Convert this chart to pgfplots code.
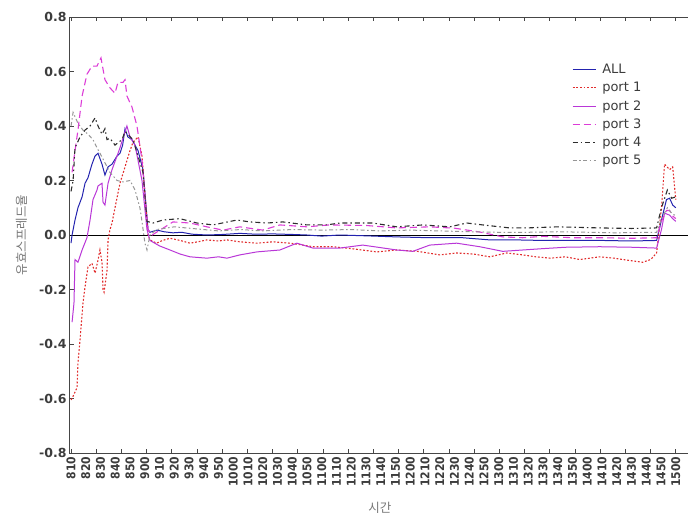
\documentclass[border=0pt]{standalone}
\usepackage{fontspec}
\setmainfont{DejaVu Sans}
\newfontfamily\kr{Noto Sans CJK KR}
\newfontfamily\tickfont{DejaVu Sans}[FakeStretch=0.9]
\usepackage{pgfplots}
\pgfplotsset{compat=1.18}
\definecolor{cAll}{RGB}{35,35,175}
\definecolor{cP1}{RGB}{225,45,45}
\definecolor{cP2}{RGB}{185,55,215}
\definecolor{cP3}{RGB}{220,60,215}
\definecolor{cP4}{RGB}{45,45,45}
\definecolor{cP5}{RGB}{150,150,150}
\definecolor{axisgray}{RGB}{70,70,70}
\definecolor{tickgray}{RGB}{60,60,60}
\definecolor{labgray}{RGB}{120,120,120}
\begin{document}
\begin{tikzpicture}
\useasboundingbox (-70pt,-66pt) rectangle (618pt,453pt);
\begin{axis}[
  at={(0pt,0pt)}, anchor=south west,
  scale only axis, width=622pt, height=436pt,
  xmin=-0.07, xmax=42.1, ymin=-0.8, ymax=0.8,
  axis line style={color=axisgray, line width=1pt},
  every tick/.style={color=axisgray, line width=0.8pt},
  major tick length=4pt,
  tick align=inside, xtick pos=both, ytick pos=left,
  xtick={0,1.7083,...,41.1}, xticklabels={},
  extra x ticks={0,1,...,41},
  extra x tick labels={810,820,830,840,850,900,910,920,930,940,950,1000,1010,1020,1030,1040,1050,1100,1110,1120,1130,1140,1150,1200,1210,1220,1230,1240,1250,1300,1310,1320,1330,1340,1350,1400,1410,1420,1430,1440,1450,1500},
  extra x tick style={major tick length=0pt},
  xticklabel style={rotate=90, anchor=east, font=\tickfont\bfseries\fontsize{12}{12}\selectfont, text=tickgray},
  ytick={-0.8,-0.6,-0.4,-0.2,0,0.2,0.4,0.6,0.8},
  yticklabel style={font=\bfseries\fontsize{12.5}{13}\selectfont, text=tickgray},
  /pgf/number format/assume math mode=true,
  /pgf/number format/fixed, /pgf/number format/fixed zerofill, /pgf/number format/precision=1,
  ylabel={\kr 유효스프레드율},
  ylabel style={at={(axis description cs:-0.077,0.5)}, anchor=center, font=\fontsize{12.5}{13}\selectfont, text=labgray},
  xlabel={\kr 시간},
  xlabel style={at={(axis description cs:0.498,-0.126)}, anchor=center, font=\fontsize{12.5}{13}\selectfont, text=labgray},
  legend style={at={(axis description cs:0.807,0.897)}, anchor=north west, draw=none, fill=none,
    font=\fontsize{13}{13}\selectfont, text=tickgray, row sep=3.2pt, inner sep=0pt,
    nodes={inner sep=2pt}},
  legend cell align=left,
  /tikz/every odd column/.append style={column sep=4pt},
  legend image code/.code={\draw[#1] (0pt,0pt) -- (23pt,0pt);},
]
\addplot[black, line width=0.9pt, forget plot] coordinates {(-0.07,0) (42.1,0)};

% ALL
\addplot[cAll, line width=1pt] coordinates {
(0,-0.03) (0.07,0.0) (0.27,0.055) (0.47,0.10) (0.75,0.14) (0.95,0.19) (1.15,0.21) (1.42,0.26) (1.63,0.29) (1.83,0.30) (2.10,0.26) (2.30,0.22) (2.51,0.25) (2.78,0.26) (3.12,0.29) (3.32,0.30) (3.50,0.33) (3.66,0.39) (3.85,0.36) (4.13,0.35) (4.54,0.31) (4.88,0.24) (5.22,0.02) (5.35,0.01) (5.83,0.018) (6.3,0.012) (6.91,0.008) (7.5,0.01) (8.2,0.003) (9.21,0.0) (10.3,0.002) (11.45,0.006) (12.5,0.003) (13.69,0.004) (15,0.002) (15.99,0.0) (17,-0.004) (18.22,0.0) (20,-0.003) (22.09,-0.007) (24.32,-0.01) (26.56,-0.01) (28.39,-0.018) (30.22,-0.018) (32,-0.02) (34,-0.02) (36,-0.02) (38,-0.022) (39.7,-0.02) (40.03,0.055) (40.37,0.13) (40.58,0.135) (40.79,0.11) (41.0,0.10)};
\addlegendentry{ALL}

% port 1
\addplot[cP1, line width=1.1pt, dash pattern=on 1.8pt off 1.8pt] coordinates {
(0,-0.605) (0.07,-0.60) (0.41,-0.56) (0.47,-0.47) (0.61,-0.385) (0.81,-0.25) (0.95,-0.19) (1.15,-0.117) (1.42,-0.104) (1.63,-0.14) (1.83,-0.092) (1.96,-0.055) (2.10,-0.10) (2.17,-0.20) (2.24,-0.21) (2.44,-0.13) (2.51,-0.018) (2.64,0.02) (2.78,0.044) (2.98,0.10) (3.32,0.19) (3.66,0.25) (4.0,0.31) (4.20,0.34) (4.54,0.36) (4.81,0.29) (5.01,0.15) (5.22,0.0) (5.35,-0.018) (5.8,-0.03) (6.2,-0.02) (6.71,-0.012) (7.4,-0.02) (8.06,-0.03) (8.6,-0.025) (9.21,-0.018) (10.0,-0.022) (10.57,-0.018) (11.45,-0.025) (12.60,-0.03) (13.69,-0.025) (14.84,-0.03) (15.5,-0.035) (16.40,-0.043) (17.75,-0.043) (19,-0.05) (20.73,-0.062) (22.09,-0.055) (23.5,-0.06) (25.0,-0.073) (26.15,-0.066) (27.3,-0.07) (28.39,-0.08) (29.54,-0.066) (30.62,-0.073) (31.5,-0.08) (32.5,-0.085) (33.5,-0.08) (34.5,-0.09) (35.84,-0.08) (36.8,-0.085) (37.67,-0.092) (38.75,-0.10) (39.3,-0.09) (39.70,-0.066) (40.03,0.10) (40.24,0.26) (40.58,0.24) (40.79,0.25) (41.0,0.13)};
\addlegendentry{port 1}

% port 2
\addplot[cP2, line width=1pt] coordinates {
(0.07,-0.32) (0.20,-0.25) (0.27,-0.09) (0.47,-0.10) (0.75,-0.055) (1.08,-0.01) (1.29,0.055) (1.49,0.13) (1.76,0.165) (1.83,0.18) (2.10,0.19) (2.17,0.12) (2.30,0.11) (2.51,0.19) (2.78,0.24) (3.12,0.29) (3.32,0.32) (3.55,0.36) (3.79,0.40) (4.0,0.36) (4.34,0.33) (4.81,0.20) (5.15,0.02) (5.35,-0.02) (6.0,-0.04) (6.71,-0.055) (7.4,-0.07) (8.06,-0.08) (9.21,-0.085) (10.0,-0.08) (10.57,-0.085) (11.45,-0.073) (12.60,-0.062) (14.16,-0.055) (15.31,-0.03) (16.40,-0.048) (18.22,-0.048) (19.78,-0.037) (22.09,-0.055) (23.17,-0.06) (24.32,-0.037) (26.15,-0.03) (27.71,-0.043) (29.27,-0.06) (30.62,-0.055) (32,-0.05) (33.5,-0.045) (35.84,-0.043) (38.08,-0.045) (39.70,-0.048) (40.03,0.02) (40.24,0.08) (40.58,0.073) (40.79,0.06) (41.0,0.05)};
\addlegendentry{port 2}

% port 3
\addplot[cP3, line width=1.1pt, dash pattern=on 7pt off 4pt] coordinates {
(0.07,0.23) (0.27,0.31) (0.47,0.385) (0.75,0.51) (1.08,0.59) (1.42,0.62) (1.76,0.62) (2.03,0.65) (2.30,0.57) (2.64,0.54) (2.98,0.52) (3.18,0.56) (3.52,0.56) (3.66,0.57) (3.79,0.51) (4.13,0.47) (4.47,0.40) (4.81,0.275) (5.01,0.15) (5.22,0.02) (5.5,0.0) (6.03,0.018) (6.91,0.048) (8.06,0.044) (9.21,0.03) (10.3,0.018) (11.45,0.03) (13.0,0.018) (14.16,0.037) (15.99,0.03) (17.5,0.037) (20,0.035) (22.09,0.026) (24.32,0.03) (26,0.025) (27.71,0.011) (29.27,-0.007) (30.62,-0.01) (32,-0.005) (34,-0.01) (36,-0.01) (38,-0.012) (39.7,-0.01) (40.03,0.05) (40.37,0.09) (40.58,0.09) (40.79,0.07) (41.0,0.06)};
\addlegendentry{port 3}

% port 4
\addplot[cP4, line width=1.1pt, dash pattern=on 5pt off 3pt on 1.5pt off 3pt] coordinates {
(0,0.16) (0.14,0.20) (0.27,0.32) (0.61,0.36) (0.95,0.385) (1.29,0.40) (1.63,0.43) (1.83,0.40) (2.10,0.37) (2.30,0.39) (2.44,0.35) (2.64,0.355) (2.98,0.33) (3.46,0.35) (3.66,0.38) (4.20,0.35) (4.88,0.23) (5.15,0.05) (5.56,0.044) (6.23,0.055) (7.38,0.06) (8.54,0.044) (9.62,0.037) (11.25,0.055) (12.13,0.048) (13.28,0.044) (14.36,0.048) (15.99,0.037) (17.34,0.037) (18.22,0.044) (20.46,0.044) (22.09,0.03) (23.85,0.037) (25.68,0.03) (26.83,0.044) (27.91,0.037) (29.74,0.026) (30.89,0.026) (33,0.03) (35.84,0.026) (38,0.024) (39.70,0.026) (40.03,0.10) (40.43,0.165) (40.72,0.135) (41.0,0.14)};
\addlegendentry{port 4}

% port 5
\addplot[cP5, line width=1pt, dash pattern=on 4pt off 2.5pt on 1.5pt off 2.5pt] coordinates {
(0,0.40) (0.14,0.45) (0.47,0.41) (0.81,0.385) (1.15,0.37) (1.49,0.35) (1.76,0.32) (1.96,0.30) (2.64,0.23) (3.12,0.20) (3.52,0.195) (4.0,0.20) (4.34,0.165) (4.67,0.10) (4.81,0.05) (5.01,-0.03) (5.15,-0.055) (5.35,0.0) (5.8,0.02) (7,0.03) (8,0.025) (9,0.02) (10,0.015) (11.5,0.02) (13,0.015) (15,0.02) (17,0.018) (19,0.02) (21,0.015) (23,0.018) (25,0.015) (27,0.012) (29,0.01) (31,0.01) (33,0.012) (35,0.01) (37,0.008) (39.7,0.01) (40.03,0.06) (40.43,0.10) (40.72,0.08) (41.0,0.07)};
\addlegendentry{port 5}
\end{axis}
\end{tikzpicture}
\end{document}
